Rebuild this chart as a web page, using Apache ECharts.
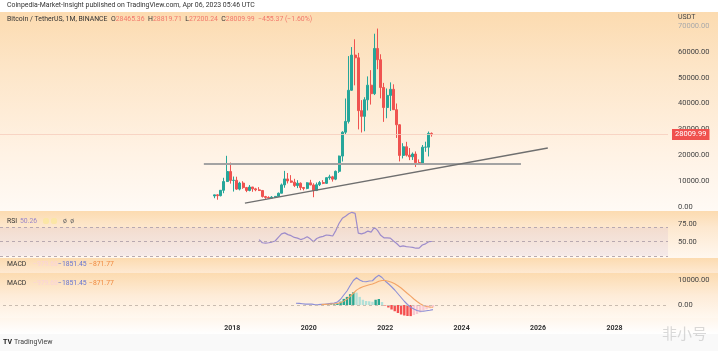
<!DOCTYPE html>
<html>
<head>
<meta charset="utf-8">
<script src="https://cdn.jsdelivr.net/npm/echarts@6/dist/echarts.min.js"></script>
<style>
  html, body { margin: 0; padding: 0; background: #fff; }
  #main { width: 718px; height: 351px; }
</style>
</head>
<body>
<div id="main"></div>
<script>
// monthly candles, Aug 2017 -> Apr 2023
const firstMonth = 2017 + 7 / 12;
const opens = [
  4261, 4689, 4378, 6463, 9837,
  13716, 10285, 10326, 6922, 9246, 7494, 6391, 7735, 7011, 6626, 6370, 4041,
  3702, 3434, 3814, 4102, 5321, 8555, 10854, 10085, 9588, 8292, 9199, 7546,
  7195, 9352, 8523, 6412, 8620, 9448, 9138, 11335, 11649, 10776, 13791, 19695,
  28923, 33092, 45134, 58739, 57697, 37253, 35045, 41461, 47100, 43820, 61300, 56950,
  46216, 38466, 43160, 45510, 37631, 31801, 19942, 23297, 20048, 19423, 20491, 17165,
  16541, 23125, 23141, 28465.36
];
const closes = [
  4689, 4378, 6463, 9837, 13716,
  10285, 10326, 6923, 9246, 7494, 6391, 7730, 7011, 6626, 6371, 4041, 3702,
  3434, 3813, 4103, 5321, 8555, 10855, 10085, 9588, 8293, 9199, 7546, 7195,
  9352, 8523, 6410, 8621, 9448, 9138, 11335, 11650, 10776, 13791, 19695, 28923,
  33092, 45135, 58740, 57694, 37253, 35045, 41461, 47100, 43824, 61299, 56950, 46216,
  38466, 43160, 45510, 37630, 31801, 19942, 23293, 20050, 19423, 20491, 17164, 16542,
  23125, 23141, 28465, 28009.99
];
const highs = [
  4745, 4939, 6470, 11300, 19798,
  17176, 11786, 11710, 9759, 9964, 7760, 8491, 7750, 7410, 7680, 6586, 4312,
  4143, 4210, 4140, 5600, 9074, 13970, 13147, 12325, 10905, 10370, 9505, 7750,
  9578, 10500, 9188, 9460, 10067, 10380, 11444, 12468, 12050, 14100, 19863, 29300,
  41950, 58352, 61844, 64854, 59592, 41330, 42448, 50500, 52920, 67000, 69000, 59053,
  47990, 45821, 48189, 47444, 40023, 31982, 24668, 25211, 22799, 21085, 21480, 18387,
  23960, 25250, 29184, 28819.71
];
const lows = [
  3400, 2817, 4110, 5325, 9722,
  9035, 5968, 6600, 6430, 7032, 5750, 6070, 5880, 6100, 6200, 3652, 3156,
  3349, 3373, 3759, 4067, 5316, 7444, 9101, 9320, 7710, 7300, 6515, 6435,
  6871, 8445, 3782, 6150, 8106, 8833, 8893, 10525, 9825, 10374, 13195, 17572,
  28130, 32296, 44950, 47044, 30000, 28805, 29278, 37332, 39600, 43283, 53256, 42000,
  32917, 34322, 37155, 37578, 26700, 17622, 18781, 19520, 18125, 18190, 15476, 16256,
  16500, 21351, 19549, 27200.24
];

// drawings on the price pane
const supportLine = [[2017.31, 16600], [2025.57, 16600]];
const trendLine = [[2018.38, 1500], [2026.27, 22800]];

// RSI(14) from Oct 2018
const rsiStart = 14;
const rsi = [
  53, 48.5, 48,
  48.5, 49.5, 51, 56, 61, 62.5, 60, 58.5, 56, 55, 53, 54.5,
  57, 54, 50, 54.5, 56.5, 57.5, 59.5, 59, 58, 66, 76, 83,
  86, 89.5, 91.5, 90, 62, 61, 62.5, 65, 63.5, 70.3, 66, 59,
  55.5, 55.5, 55, 51, 47.5, 43, 44, 43, 42.5, 42, 40.8, 41,
  45.3, 47, 50, 50.26
];

// MACD from Sep 2019, signal + histogram from May 2020
const macdStart = 25;
const macd = [
  700, 650, 500, 350,
  400, 350, 100, 150, 250, 300, 500, 650, 750, 1200, 2300, 4000,
  5600, 7800, 9800, 10900, 10000, 9400, 9300, 9600, 9700, 11000, 11900, 11000,
  9600, 8500, 7300, 6000, 4500, 3000, 1500, 200, -900, -1600, -2200, -2500,
  -2500, -2300, -2100, -1851.45
];
const signalStart = 33;
const signal = [
  200, 250, 300, 400, 480, 620, 950, 1550,
  2350, 3450, 4700, 5950, 6750, 7300, 7700, 8100, 8400, 8900, 9500, 9800,
  9800, 9500, 9100, 8500, 7700, 6800, 5700, 4600, 3550, 2400, 1400, 500,
  -200, -600, -800, -871.77
];
const hist = [
  50, 50, 200, 250, 270, 580, 1350, 2450,
  3250, 4350, 5100, 4950, 3250, 2100, 1600, 1500, 1300, 2100, 2400, 1200,
  -200, -1000, -1800, -2500, -3200, -3800, -4200, -4400, -4450, -4000, -3600, -3000,
  -2300, -1700, -1300, -979.68
];

const monthX = i => firstMonth + i / 12;
const candles = opens.map((o, i) => [monthX(i), o, closes[i], lows[i], highs[i]]);
const rsiData = rsi.map((v, i) => [monthX(rsiStart + i), v]);
const macdData = macd.map((v, i) => [monthX(macdStart + i), v]);
const signalData = signal.map((v, i) => [monthX(signalStart + i), v]);
const histData = hist.map((v, i) => [monthX(signalStart + i), v]);
const lastClose = closes[closes.length - 1];

const chart = echarts.init(document.getElementById('main'));
const font = 'Roboto, "Noto Sans", sans-serif';
const grad = stops => new echarts.graphic.LinearGradient(0, 0, 0, 1,
  stops.map(s => ({ offset: s[0], color: s[1] })));

const xAxisBase = idx => ({
  type: 'value', gridIndex: idx, min: 2012, max: 2029.4, interval: 2,
  axisLine: { show: false }, axisTick: { show: false }, splitLine: { show: false },
  axisLabel: idx === 2 ? {
    margin: 7, fontSize: 7, color: '#333', fontFamily: font, fontWeight: 'bold',
    formatter: v => (v >= 2018 && v <= 2028 && Number.isInteger(v)) ? String(v) : ''
  } : { show: false }
});
const yLabel = show => ({
  fontSize: 7.5, color: '#444', fontFamily: font, margin: 10,
  formatter: v => show(v) ? v.toFixed(2) : ''
});
const hLines = (vals, color) => ({
  symbol: 'none', silent: true, label: { show: false },
  lineStyle: { color, type: [3, 3], width: 1 },
  data: vals.map(v => ({ yAxis: v }))
});

const txt = (x, y, text, fill, size, extra) => Object.assign({
  type: 'text', x, y, z: 100, silent: true,
  style: { text, fill, fontSize: size || 7, fontFamily: font, textVerticalAlign: 'middle' }
}, extra || {});

const option = {
  animation: false,
  textStyle: { fontFamily: font },
  grid: [
    { left: 0, right: 50, top: 12, height: 195 },
    { left: 0, right: 50, top: 206.3, height: 53.1 },
    { left: 0, right: 50, top: 274, height: 43.5 }
  ],
  xAxis: [xAxisBase(0), xAxisBase(1), xAxisBase(2)],
  yAxis: [
    {
      gridIndex: 0, position: 'right', min: 0, max: 75400, interval: 10000,
      axisLine: { show: false }, axisTick: { show: false }, splitLine: { show: false },
      axisLabel: Object.assign(yLabel(v => v % 10000 === 0 && v <= 70000), {
        color: v => (v >= 70000 ? '#aaa' : '#444')
      })
    },
    {
      gridIndex: 1, position: 'right', min: 25, max: 100, interval: 25,
      axisLine: { show: false }, axisTick: { show: false }, splitLine: { show: false },
      axisLabel: yLabel(v => v === 50 || v === 75)
    },
    {
      gridIndex: 2, position: 'right', min: -5000, max: 12400, interval: 5000,
      axisLine: { show: false }, axisTick: { show: false }, splitLine: { show: false },
      axisLabel: yLabel(v => v === 0 || v === 10000)
    }
  ],
  series: [
    {
      type: 'candlestick', xAxisIndex: 0, yAxisIndex: 0, barWidth: 2.4,
      data: candles,
      itemStyle: { color: '#26a69a', color0: '#ef5350', borderColor: '#26a69a', borderColor0: '#ef5350', borderWidth: 1 },
      markLine: {
        symbol: 'none', silent: true,
        lineStyle: { color: '#f6cdbd', type: 'solid', width: 0.8 },
        label: {
          position: 'end', distance: 4, formatter: p => p.value.toFixed(2),
          backgroundColor: '#f0514e', color: '#fff', fontSize: 7.5, padding: [2, 3, 1, 3]
        },
        data: [{ yAxis: lastClose }]
      }
    },
    {
      type: 'line', xAxisIndex: 0, yAxisIndex: 0, data: supportLine, symbol: 'none', silent: true,
      lineStyle: { color: '#a3a3a3', width: 2 }
    },
    {
      type: 'line', xAxisIndex: 0, yAxisIndex: 0, data: trendLine, symbol: 'none', silent: true,
      lineStyle: { color: '#6f6f6f', width: 1.4 }
    },
    {
      type: 'line', xAxisIndex: 1, yAxisIndex: 1, data: rsiData, symbol: 'none', silent: true,
      lineStyle: { color: '#9d8ccb', width: 1.2 },
      markArea: {
        silent: true, itemStyle: { color: 'rgba(126,87,194,0.08)' },
        data: [[{ yAxis: 30 }, { yAxis: 70 }]]
      },
      markLine: hLines([70, 50, 30], '#b8a9b0')
    },
    {
      type: 'bar', xAxisIndex: 2, yAxisIndex: 2, data: histData, barWidth: 2.4, silent: true,
      itemStyle: {
        color: p => {
          const i = p.dataIndex;
          const v = hist[i], prev = i > 0 ? hist[i - 1] : v;
          if (v >= 0) return v >= prev ? '#2aa791' : '#b2e0d8';
          return v <= prev ? '#f44f50' : '#f9c9d2';
        }
      },
      markLine: hLines([0], '#c9bcb0')
    },
    {
      type: 'line', xAxisIndex: 2, yAxisIndex: 2, data: macdData, symbol: 'none', silent: true,
      lineStyle: { color: '#8d8fd6', width: 1.1 }
    },
    {
      type: 'line', xAxisIndex: 2, yAxisIndex: 2, data: signalData, symbol: 'none', silent: true,
      lineStyle: { color: '#f3a466', width: 1.1 }
    }
  ],
  graphic: {
    elements: [
      // panel backgrounds
      { type: 'rect', z: -10, silent: true, shape: { x: 0, y: 12, width: 718, height: 199 },
        style: { fill: grad([[0, '#fcdbb0'], [0.3, '#fde6c9'], [0.7, '#fff2e4'], [1, '#fffaf5']]) } },
      { type: 'rect', z: -10, silent: true, shape: { x: 0, y: 211, width: 718, height: 47 },
        style: { fill: grad([[0, '#fcdbb0'], [0.35, '#fde8cf'], [1, '#fff7ef']]) } },
      { type: 'rect', z: -10, silent: true, shape: { x: 0, y: 258, width: 718, height: 15 },
        style: { fill: grad([[0, '#fcdbb0'], [1, '#fee9d2']]) } },
      { type: 'rect', z: -10, silent: true, shape: { x: 0, y: 273, width: 718, height: 45 },
        style: { fill: grad([[0, '#fcdbb0'], [0.5, '#feecd8'], [1, '#fff8f0']]) } },
      { type: 'rect', z: -10, silent: true, shape: { x: 0, y: 318, width: 718, height: 16 },
        style: { fill: grad([[0, '#fff6ec'], [1, '#ffffff']]) } },
      { type: 'rect', z: -10, silent: true, shape: { x: 0, y: 334, width: 718, height: 17 },
        style: { fill: '#f9f9f9' } },

      // header texts
      txt(7, 5.5, 'Coinpedia-Market-Insight published on TradingView.com, Apr 06, 2023 05:46 UTC', '#333', 6.9),
      {
        type: 'text', x: 7, y: 19, z: 100, silent: true,
        style: {
          text: '{n|Bitcoin / TetherUS, 1M, BINANCE}  {k|O}{v|28465.36}  {k|H}{v|28819.71}  {k|L}{v|27200.24}  {k|C}{v|28009.99}  {v|−455.37 (−1.60%)}',
          fontFamily: font, fontSize: 6.9, textVerticalAlign: 'middle',
          rich: {
            n: { fill: '#333', fontSize: 6.9, fontFamily: font },
            k: { fill: '#333', fontSize: 6.9, fontFamily: font },
            v: { fill: '#f2786b', fontSize: 6.9, fontFamily: font }
          }
        }
      },
      txt(678, 17, 'USDT', '#444', 7),

      // RSI legend
      txt(7, 221, 'RSI', '#333', 6.8),
      txt(20, 221, '50.26', '#9a86c9', 6.8),
      { type: 'rect', z: 100, silent: true, shape: { x: 43, y: 218, width: 6, height: 6, r: 2 }, style: { fill: '#fbe6a6' } },
      { type: 'rect', z: 100, silent: true, shape: { x: 51, y: 218, width: 6, height: 6, r: 2 }, style: { fill: '#fbe6a6' } },
      txt(63, 221, 'ø  ø', '#666', 6.8),

      // MACD legends
      txt(7, 264.5, 'MACD', '#333', 6.8),
      txt(33, 264.5, '−979.68', '#fad3da', 6.8),
      txt(58, 264.5, '−1851.45', '#6574d2', 6.8),
      txt(89, 264.5, '−871.77', '#f08a40', 6.8),
      txt(7, 283.5, 'MACD', '#333', 6.8),
      txt(33, 283.5, '−979.68', '#fad3da', 6.8),
      txt(58, 283.5, '−1851.45', '#6574d2', 6.8),
      txt(89, 283.5, '−871.77', '#f08a40', 6.8),

      // footer
      txt(3, 342, 'TV', '#222', 7, { style: { text: 'TV', fill: '#222', fontSize: 7, fontWeight: 'bold', fontFamily: font, textVerticalAlign: 'middle' } }),
      txt(14, 342, 'TradingView', '#444', 7),
      txt(662, 333, '非小号', 'rgba(185,185,185,0.6)', 15,
        { style: { text: '非小号', fill: 'rgba(185,185,185,0.55)', fontSize: 15, fontFamily: '"Noto Sans CJK SC", sans-serif', textVerticalAlign: 'middle' } })
    ]
  }
};

chart.setOption(option);
</script>
</body>
</html>
